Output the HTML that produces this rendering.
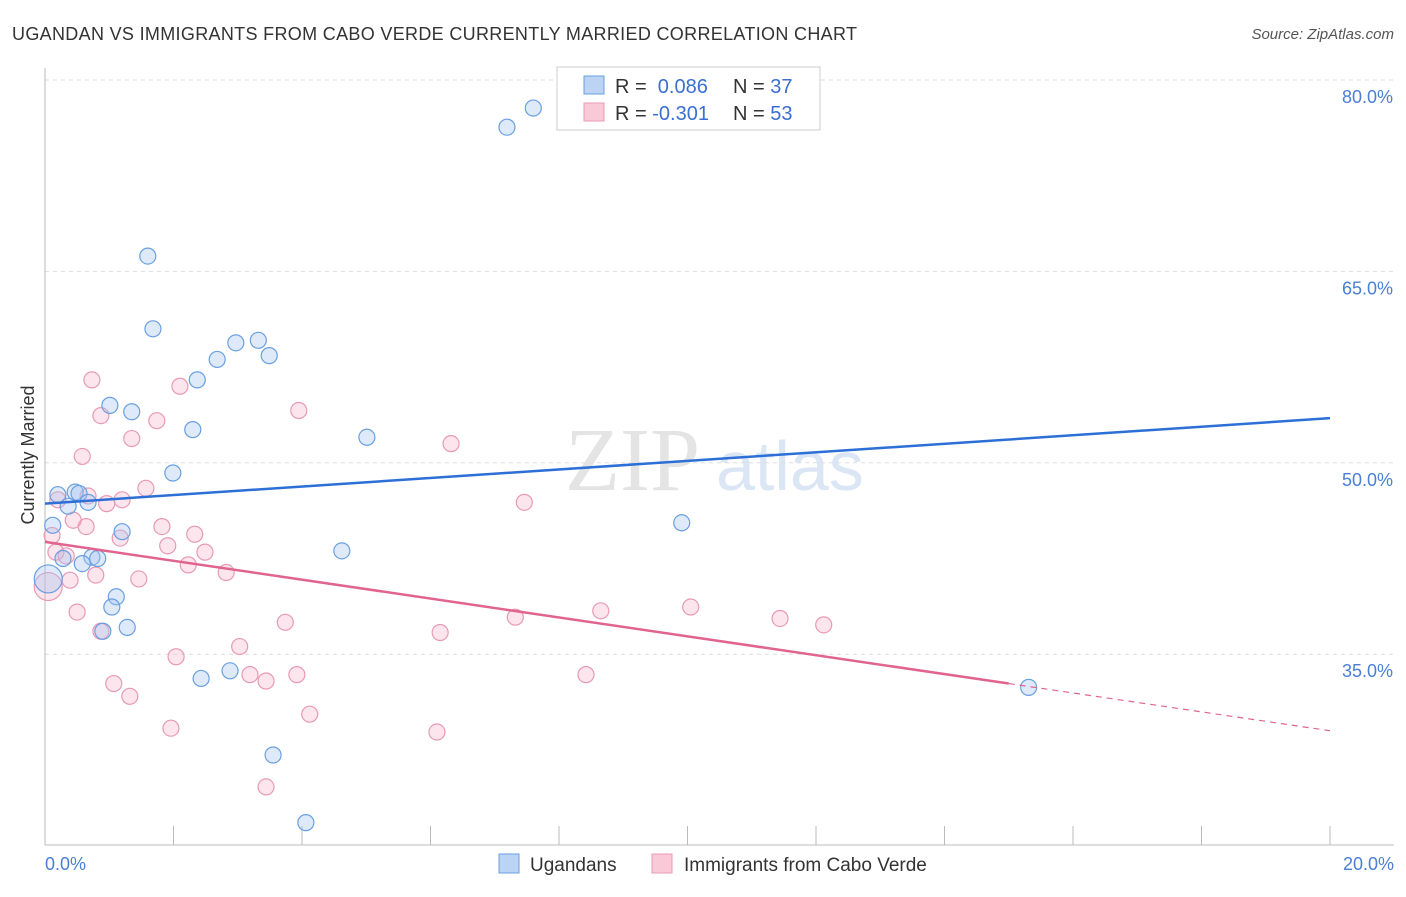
<!DOCTYPE html>
<html><head><meta charset="utf-8"><style>
body{margin:0;background:#fff;font-family:"Liberation Sans",sans-serif}
</style></head><body>
<svg width="1406" height="892" xmlns="http://www.w3.org/2000/svg" font-family="Liberation Sans, sans-serif">
<text x="12" y="40" font-size="18" fill="#333" textLength="845">UGANDAN VS IMMIGRANTS FROM CABO VERDE CURRENTLY MARRIED CORRELATION CHART</text>
<text x="1394" y="39" font-size="15" fill="#555" font-style="italic" text-anchor="end">Source: ZipAtlas.com</text>
<text x="700" y="490" font-size="90" fill="#e4e4e4" font-family="Liberation Serif, serif" text-anchor="end">ZIP</text>
<text x="716" y="490" font-size="70" fill="#dbe6f5">atlas</text>
<g id="grid"></g>
<g id="axes"></g>
<g id="marks"></g>
<text transform="translate(34,455) rotate(-90)" font-size="18" fill="#333" text-anchor="middle">Currently Married</text>
<g>
<rect x="557" y="67" width="263" height="63" fill="#fff" stroke="#ccc"/>
<rect x="584" y="76" width="20" height="18" fill="#bcd3f3" stroke="#6a9fe0"/>
<rect x="584" y="103" width="20" height="18" fill="#f9c9d8" stroke="#e89ab5"/>
<text x="615" y="93" font-size="20" fill="#333">R = <tspan fill="#3a6fd0">&#160;0.086</tspan><tspan x="733">N = </tspan><tspan fill="#3a6fd0">37</tspan></text>
<text x="615" y="120" font-size="20" fill="#333">R = <tspan fill="#3a6fd0">-0.301</tspan><tspan x="733">N = </tspan><tspan fill="#3a6fd0">53</tspan></text>
</g>
<g>
<rect x="499" y="854" width="20" height="19" fill="#bcd3f3" stroke="#6a9fe0"/>
<text x="530" y="871" font-size="19" fill="#333">Ugandans</text>
<rect x="652" y="854" width="20" height="19" fill="#f9c9d8" stroke="#e89ab5"/>
<text x="684" y="871" font-size="19" fill="#333">Immigrants from Cabo Verde</text>
</g>
</svg>
<script>
const xTicks=[0,2,4,6,8,10,12,14,16,18,20];
const yTicks=[35,50,65,80];
const blueX=[7.60,7.19,1.60,1.68,2.97,3.32,3.49,2.68,2.37,1.01,1.35,2.30,5.01,1.99,0.20,0.47,0.53,0.67,0.36,0.12,1.20,9.91,4.62,0.73,0.82,0.58,0.28,1.11,1.04,1.28,0.90,2.43,2.88,3.55,4.06,15.31,0.05];
const blueY=[77.8,76.3,66.2,60.5,59.4,59.6,58.4,58.1,56.5,54.5,54.0,52.6,52.0,49.2,47.5,47.7,47.6,46.9,46.6,45.1,44.6,45.3,43.1,42.6,42.5,42.1,42.5,39.5,38.7,37.1,36.8,33.1,33.7,27.1,21.8,32.4,40.9];
const pinkX=[0.73,2.10,0.87,1.74,3.95,1.35,6.32,0.58,1.57,0.20,0.67,1.20,0.96,7.46,0.44,0.64,1.82,0.11,2.33,1.17,1.91,0.17,0.33,2.49,2.23,2.82,0.79,1.46,0.39,0.05,0.50,8.65,7.32,10.05,11.44,12.12,3.74,6.15,0.87,3.03,2.04,1.07,1.32,3.19,3.44,3.92,8.42,1.96,4.12,6.10,3.44];
const pinkY=[56.5,56.0,53.7,53.3,54.1,51.9,51.5,50.5,48.0,47.1,47.4,47.1,46.8,46.9,45.5,45.0,45.0,44.3,44.4,44.1,43.5,43.0,42.7,43.0,42.0,41.4,41.2,40.9,40.8,40.3,38.3,38.4,37.9,38.7,37.8,37.3,37.5,36.7,36.8,35.6,34.8,32.7,31.7,33.4,32.9,33.4,33.4,29.2,30.3,28.9,24.6];
const blueTrend=[46.8,53.5];
const pinkTrend=[43.8,29.0];
const pinkSolidEnd=15.0;
const NS="http://www.w3.org/2000/svg";
const X=v=>45+v/20*1285, Y=v=>80+(80-v)*12.76;
function mk(tag,attrs,parent){const e=document.createElementNS(NS,tag);for(const k in attrs)e.setAttribute(k,attrs[k]);document.getElementById(parent).appendChild(e);return e;}
yTicks.forEach(t=>{
 const l=mk('line',{x1:45,x2:1394,y1:Y(t),y2:Y(t),stroke:'#ddd','stroke-dasharray':'4,4'},'grid');
 
 
 const tx=mk('text',{x:1393,y:Y(t)+23,'font-size':18,fill:'#4a7fd4','text-anchor':'end'},'axes');
 tx.textContent=t.toFixed(1)+'%';
 
 
});
const ya=mk('line',{x1:45,x2:45,y1:68,y2:845,stroke:'#bbb'},'axes');


const xa=mk('line',{x1:45,x2:1394,y1:845,y2:845,stroke:'#bbb'},'axes');


xTicks.forEach(t=>{
 const l=mk('line',{x1:X(t),x2:X(t),y1:826,y2:845,stroke:'#bbb'},'axes');
 
 
});
[[0,45,'start'],[20,1394,'end']].forEach(([t,x,a])=>{
 const tx=mk('text',{x:x,y:870,'font-size':18,fill:'#4a7fd4','text-anchor':a},'axes');
 tx.textContent=t.toFixed(1)+'%';
 
 
});
function pts(xs,ys,fill,stroke,name){
 xs.forEach((v,i)=>{
  const big=v<0.08;
  const c=mk('circle',{cx:X(v),cy:Y(ys[i]),r:big?14:8,fill:fill,stroke:stroke,'stroke-width':1.2},'marks');
  
  
 });
}
pts(pinkX,pinkY,'rgba(245,170,195,0.3)','#e89ab5','pink-point');
pts(blueX,blueY,'rgba(160,195,240,0.35)','#6a9fe0','blue-point');
const bl=mk('line',{x1:X(0),y1:Y(blueTrend[0]),x2:X(20),y2:Y(blueTrend[1]),stroke:'#2c6fd6','stroke-width':2.5},'marks');


const pAt=v=>pinkTrend[0]+(pinkTrend[1]-pinkTrend[0])*v/20;
const pl=mk('line',{x1:X(0),y1:Y(pinkTrend[0]),x2:X(pinkSolidEnd),y2:Y(pAt(pinkSolidEnd)),stroke:'#e0648f','stroke-width':2.5},'marks');


const pd=mk('line',{x1:X(pinkSolidEnd),y1:Y(pAt(pinkSolidEnd)),x2:X(20),y2:Y(pinkTrend[1]),stroke:'#e0648f','stroke-width':1.2,'stroke-dasharray':'6,5'},'marks');


</script>
</body></html>
